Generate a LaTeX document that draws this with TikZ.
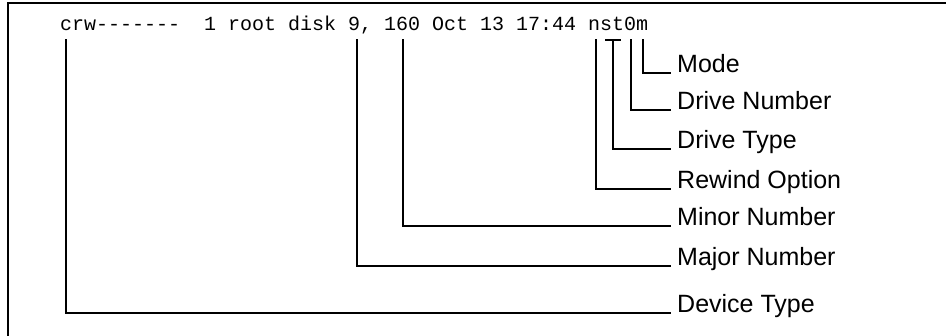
\documentclass[tikz,border=0pt]{standalone}
\usepackage{fontspec}
\setmainfont{Liberation Sans}
\newfontfamily\listingfont{Liberation Mono}
\begin{document}
\begin{tikzpicture}[x=1pt,y=-1pt,
  rule/.style={line width=1.8pt, line cap=rect},
  callout/.style={rule},
  lsline/.style={font=\listingfont\fontsize{20}{24}\selectfont, anchor=base west, inner sep=0pt},
  fieldlabel/.style={font=\fontsize{25}{30}\selectfont, anchor=base west, inner xsep=7pt, inner ysep=0pt}
]
  % canvas
  \useasboundingbox (0,0) rectangle (946,336);
  \draw[rule, line cap=butt] (8,336) -- (8,3) -- (946,3);

  % the directory listing line
  \node[lsline] (listing) at (60,31) {crw-------\ \ 1 root disk 9, 160 Oct 13 17:44 nst0m};

  % points under the characters of interest
  \coordinate (pType)   at (66,40);
  \coordinate (pMajor)  at (357,40);
  \coordinate (pMinor)  at (403,40);
  \coordinate (pRewind) at (596,40);
  \coordinate (pDtL)    at (606,40);
  \coordinate (pDtR)    at (620,40);
  \coordinate (pDtype)  at (613,40);
  \coordinate (pDnum)   at (631,40);
  \coordinate (pMode)   at (643,40);

  % field names
  \node[fieldlabel] (mode)   at (670,73)  {Mode};
  \node[fieldlabel] (dnum)   at (670,110) {Drive Number};
  \node[fieldlabel] (dtype)  at (670,149) {Drive Type};
  \node[fieldlabel] (rewind) at (670,189) {Rewind Option};
  \node[fieldlabel] (minor)  at (670,226) {Minor Number};
  \node[fieldlabel] (major)  at (670,266) {Major Number};
  \node[fieldlabel] (devtype) at (670,313) {Device Type};

  % connectors
  \draw[callout] (pMode)   |- (mode.base west);
  \draw[callout] (pDnum)   |- (dnum.base west);
  \draw[callout] (pDtL) -- (pDtR);
  \draw[callout] (pDtype)  |- (dtype.base west);
  \draw[callout] (pRewind) |- (rewind.base west);
  \draw[callout] (pMinor)  |- (minor.base west);
  \draw[callout] (pMajor)  |- (major.base west);
  \draw[callout] (pType)   |- (devtype.base west);
\end{tikzpicture}
\end{document}
